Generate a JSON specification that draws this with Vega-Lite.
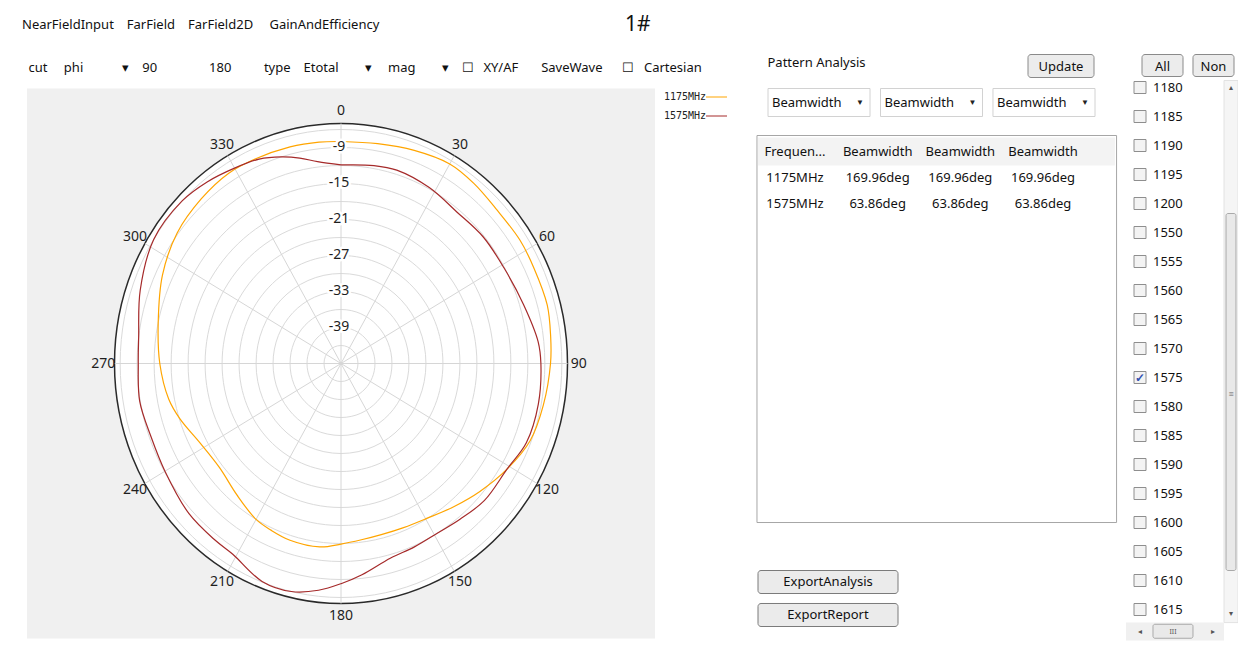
{
  "$schema": "https://vega.github.io/schema/vega-lite/v6.json",
  "background": "white",
  "padding": {"left": 22, "top": 13.5, "right": 0, "bottom": 0},
  "config": {
    "view": {"stroke": null},
    "font": "Noto Sans",
    "title": {"font": "Noto Sans", "fontWeight": "normal", "color": "#111111"}
  },
  "datasets": {
    "pattern": [
      {"series": "1175MHz", "angle": 0, "db": -8.0},
      {"series": "1175MHz", "angle": 10, "db": -7.8},
      {"series": "1175MHz", "angle": 20, "db": -7.2},
      {"series": "1175MHz", "angle": 30, "db": -6.6},
      {"series": "1175MHz", "angle": 38, "db": -6.9},
      {"series": "1175MHz", "angle": 47, "db": -7.4},
      {"series": "1175MHz", "angle": 57, "db": -7.3},
      {"series": "1175MHz", "angle": 65, "db": -7.4},
      {"series": "1175MHz", "angle": 75, "db": -7.3},
      {"series": "1175MHz", "angle": 83, "db": -7.7},
      {"series": "1175MHz", "angle": 90, "db": -8.0},
      {"series": "1175MHz", "angle": 101, "db": -8.6},
      {"series": "1175MHz", "angle": 111, "db": -9.2},
      {"series": "1175MHz", "angle": 121, "db": -10.8},
      {"series": "1175MHz", "angle": 131, "db": -12.5},
      {"series": "1175MHz", "angle": 140, "db": -13.9},
      {"series": "1175MHz", "angle": 150, "db": -15.1},
      {"series": "1175MHz", "angle": 158, "db": -15.5},
      {"series": "1175MHz", "angle": 166, "db": -15.6},
      {"series": "1175MHz", "angle": 173, "db": -15.4},
      {"series": "1175MHz", "angle": 180, "db": -14.9},
      {"series": "1175MHz", "angle": 187, "db": -14.2},
      {"series": "1175MHz", "angle": 197, "db": -14.2},
      {"series": "1175MHz", "angle": 204, "db": -14.6},
      {"series": "1175MHz", "angle": 210, "db": -15.0},
      {"series": "1175MHz", "angle": 220, "db": -16.4},
      {"series": "1175MHz", "angle": 231, "db": -17.4},
      {"series": "1175MHz", "angle": 242, "db": -16.8},
      {"series": "1175MHz", "angle": 252, "db": -15.1},
      {"series": "1175MHz", "angle": 259, "db": -14.0},
      {"series": "1175MHz", "angle": 270, "db": -13.0},
      {"series": "1175MHz", "angle": 282, "db": -12.0},
      {"series": "1175MHz", "angle": 295, "db": -10.2},
      {"series": "1175MHz", "angle": 307, "db": -8.8},
      {"series": "1175MHz", "angle": 318, "db": -8.1},
      {"series": "1175MHz", "angle": 328, "db": -7.6},
      {"series": "1175MHz", "angle": 336, "db": -7.7},
      {"series": "1175MHz", "angle": 346, "db": -7.8},
      {"series": "1175MHz", "angle": 354, "db": -7.9},
      {"series": "1175MHz", "angle": 360, "db": -8.0},
      {"series": "1575MHz", "angle": 0, "db": -11.9},
      {"series": "1575MHz", "angle": 10, "db": -11.5},
      {"series": "1575MHz", "angle": 17, "db": -11.3},
      {"series": "1575MHz", "angle": 28, "db": -11.8},
      {"series": "1575MHz", "angle": 39, "db": -12.5},
      {"series": "1575MHz", "angle": 50, "db": -12.2},
      {"series": "1575MHz", "angle": 61, "db": -12.1},
      {"series": "1575MHz", "angle": 73, "db": -11.3},
      {"series": "1575MHz", "angle": 84, "db": -10.0},
      {"series": "1575MHz", "angle": 90, "db": -9.7},
      {"series": "1575MHz", "angle": 101, "db": -9.5},
      {"series": "1575MHz", "angle": 112, "db": -9.7},
      {"series": "1575MHz", "angle": 121, "db": -10.8},
      {"series": "1575MHz", "angle": 132, "db": -10.9},
      {"series": "1575MHz", "angle": 141, "db": -11.6},
      {"series": "1575MHz", "angle": 149, "db": -12.0},
      {"series": "1575MHz", "angle": 157, "db": -11.8},
      {"series": "1575MHz", "angle": 165, "db": -11.4},
      {"series": "1575MHz", "angle": 174, "db": -9.6},
      {"series": "1575MHz", "angle": 180, "db": -8.3},
      {"series": "1575MHz", "angle": 186, "db": -7.0},
      {"series": "1575MHz", "angle": 193, "db": -6.0},
      {"series": "1575MHz", "angle": 201, "db": -6.1},
      {"series": "1575MHz", "angle": 211, "db": -7.9},
      {"series": "1575MHz", "angle": 217, "db": -8.1},
      {"series": "1575MHz", "angle": 227, "db": -8.3},
      {"series": "1575MHz", "angle": 240, "db": -9.1},
      {"series": "1575MHz", "angle": 250, "db": -9.3},
      {"series": "1575MHz", "angle": 260, "db": -8.9},
      {"series": "1575MHz", "angle": 270, "db": -9.2},
      {"series": "1575MHz", "angle": 277, "db": -9.0},
      {"series": "1575MHz", "angle": 289, "db": -7.5},
      {"series": "1575MHz", "angle": 302, "db": -6.0},
      {"series": "1575MHz", "angle": 314, "db": -6.0},
      {"series": "1575MHz", "angle": 322, "db": -6.6},
      {"series": "1575MHz", "angle": 330, "db": -7.4},
      {"series": "1575MHz", "angle": 337, "db": -8.0},
      {"series": "1575MHz", "angle": 343, "db": -9.0},
      {"series": "1575MHz", "angle": 348, "db": -10.0},
      {"series": "1575MHz", "angle": 353, "db": -11.1},
      {"series": "1575MHz", "angle": 360, "db": -11.9}
    ],
    "rings": [
      {"level": -42}, {"level": -39}, {"level": -36}, {"level": -33}, {"level": -30},
      {"level": -27}, {"level": -24}, {"level": -21}, {"level": -18}, {"level": -15},
      {"level": -12}, {"level": -9}, {"level": -6}, {"level": -5}
    ],
    "spokes": [
      {"angle": 0}, {"angle": 30}, {"angle": 60}, {"angle": 90}, {"angle": 120}, {"angle": 150},
      {"angle": 180}, {"angle": 210}, {"angle": 240}, {"angle": 270}, {"angle": 300}, {"angle": 330}
    ],
    "series": [{"series": "1175MHz"}, {"series": "1575MHz"}],
    "dropdowns": [
      {"id": 1, "value": "Beamwidth"}, {"id": 2, "value": "Beamwidth"}, {"id": 3, "value": "Beamwidth"}
    ],
    "topButtons": [{"label": "Update"}],
    "listButtons": [{"label": "All"}, {"label": "Non"}],
    "table": [
      {"row": 0, "col": 0, "text": "Frequen..."},
      {"row": 0, "col": 1, "text": "Beamwidth"},
      {"row": 0, "col": 2, "text": "Beamwidth"},
      {"row": 0, "col": 3, "text": "Beamwidth"},
      {"row": 1, "col": 0, "text": "1175MHz"},
      {"row": 1, "col": 1, "text": "169.96deg"},
      {"row": 1, "col": 2, "text": "169.96deg"},
      {"row": 1, "col": 3, "text": "169.96deg"},
      {"row": 2, "col": 0, "text": "1575MHz"},
      {"row": 2, "col": 1, "text": "63.86deg"},
      {"row": 2, "col": 2, "text": "63.86deg"},
      {"row": 2, "col": 3, "text": "63.86deg"}
    ],
    "buttons": [{"label": "ExportAnalysis"}, {"label": "ExportReport"}],
    "freqs": [
      {"freq": 1180, "checked": false}, {"freq": 1185, "checked": false}, {"freq": 1190, "checked": false},
      {"freq": 1195, "checked": false}, {"freq": 1200, "checked": false}, {"freq": 1550, "checked": false},
      {"freq": 1555, "checked": false}, {"freq": 1560, "checked": false}, {"freq": 1565, "checked": false},
      {"freq": 1570, "checked": false}, {"freq": 1575, "checked": true}, {"freq": 1580, "checked": false},
      {"freq": 1585, "checked": false}, {"freq": 1590, "checked": false}, {"freq": 1595, "checked": false},
      {"freq": 1600, "checked": false}, {"freq": 1605, "checked": false}, {"freq": 1610, "checked": false},
      {"freq": 1615, "checked": false}
    ]
  },
  "bounds": "flush",
  "spacing": 9,
  "hconcat": [
    {
      "width": 628,
      "height": 550,
      "view": {"fill": "#f0f0f0", "stroke": null},
      "title": {
        "text": [
          "NearFieldInput\u2003FarField\u2003FarField2D\u2003 GainAndEfficiency",
          "\u200b\u2002cut\u2003 phi\u2003\u2003\u2003\u25be\u200390\u2003\u2003\u2003\u2003180\u2003\u2003\u2002type\u2003Etotal\u2003\u2003\u25be\u2003 mag\u2003\u2003\u25be\u2003\u2610\u2002 XY/AF\u2003\u2002 SaveWave\u2003\u2002\u2610\u2002 Cartesian"
        ],
        "anchor": "start",
        "dx": -5,
        "fontSize": 13,
        "lineHeight": 43,
        "offset": 14
      },
      "layer": [
        {
          "data": {"name": "rings"},
          "transform": [{"filter": "datum.level == -5"}, {"calculate": "datum.level + 45", "as": "r"}],
          "mark": {"type": "point", "shape": "M 0.94375 0 C 0.94375 0.5523 0.5212 1 0 1 C -0.5212 1 -0.94375 0.5523 -0.94375 0 C -0.94375 -0.5523 -0.5212 -1 0 -1 C 0.5212 -1 0.94375 -0.5523 0.94375 0 Z", "filled": true, "fill": "white", "stroke": "#2a2a2a", "strokeWidth": 1.5, "opacity": 1},
          "encoding": {
            "x": {"datum": 0, "type": "quantitative", "scale": {"domain": [-55.45, 55.45], "nice": false, "zero": false}, "axis": null},
            "y": {"datum": 0, "type": "quantitative", "scale": {"domain": [-45.833, 45.833], "nice": false, "zero": false}, "axis": null},
            "size": {"field": "r", "type": "quantitative", "scale": {"type": "pow", "exponent": 2, "domain": [0, 40], "range": [0, 230400]}, "legend": null}
          }
        },
        {
          "data": {"name": "rings"},
          "transform": [{"filter": "datum.level < -5"}, {"calculate": "datum.level + 45", "as": "r"}],
          "mark": {"type": "point", "shape": "M 0.94375 0 C 0.94375 0.5523 0.5212 1 0 1 C -0.5212 1 -0.94375 0.5523 -0.94375 0 C -0.94375 -0.5523 -0.5212 -1 0 -1 C 0.5212 -1 0.94375 -0.5523 0.94375 0 Z", "filled": false, "stroke": "#dadada", "strokeWidth": 1, "opacity": 1},
          "encoding": {
            "x": {"datum": 0, "type": "quantitative"},
            "y": {"datum": 0, "type": "quantitative"},
            "size": {"field": "r", "type": "quantitative", "legend": null}
          }
        },
        {
          "data": {"name": "spokes"},
          "transform": [
            {"calculate": "40 * sin(datum.angle * PI / 180)", "as": "sx"},
            {"calculate": "40 * cos(datum.angle * PI / 180)", "as": "sy"},
            {"calculate": "0", "as": "o"}
          ],
          "mark": {"type": "rule", "color": "#d6d6d6", "strokeWidth": 1},
          "encoding": {
            "x": {"field": "o", "type": "quantitative"},
            "y": {"field": "o", "type": "quantitative"},
            "x2": {"field": "sx"},
            "y2": {"field": "sy"}
          }
        },
        {
          "data": {"name": "pattern"},
          "transform": [
            {"calculate": "(datum.db + 45) * sin(datum.angle * PI / 180)", "as": "px"},
            {"calculate": "(datum.db + 45) * cos(datum.angle * PI / 180)", "as": "py"}
          ],
          "mark": {"type": "line", "strokeWidth": 1.2, "interpolate": "catmull-rom"},
          "encoding": {
            "x": {"field": "px", "type": "quantitative"},
            "y": {"field": "py", "type": "quantitative"},
            "color": {"field": "series", "type": "nominal", "scale": {"domain": ["1175MHz", "1575MHz"], "range": ["#ffa500", "#a52a2a"]}, "legend": null},
            "order": {"field": "angle", "type": "quantitative"}
          }
        },
        {
          "data": {"name": "rings"},
          "transform": [{"filter": "datum.level < -5 && (datum.level + 45) % 6 == 0"}, {"calculate": "datum.level + 45", "as": "r"}],
          "mark": {"type": "text", "fontSize": 14, "color": "white", "stroke": "white", "strokeWidth": 5, "strokeJoin": "round", "dx": -2},
          "encoding": {
            "x": {"datum": 0, "type": "quantitative"},
            "y": {"field": "r", "type": "quantitative"},
            "text": {"field": "level", "type": "nominal"}
          }
        },
        {
          "data": {"name": "rings"},
          "transform": [{"filter": "datum.level < -5 && (datum.level + 45) % 6 == 0"}, {"calculate": "datum.level + 45", "as": "r"}],
          "mark": {"type": "text", "fontSize": 14, "color": "#1e1e1e", "dx": -2},
          "encoding": {
            "x": {"datum": 0, "type": "quantitative"},
            "y": {"field": "r", "type": "quantitative"},
            "text": {"field": "level", "type": "nominal"}
          }
        },
        {
          "data": {"name": "spokes"},
          "transform": [
            {"calculate": "42 * sin(datum.angle * PI / 180)", "as": "lx"},
            {"calculate": "42 * cos(datum.angle * PI / 180)", "as": "ly"}
          ],
          "mark": {"type": "text", "fontSize": 14, "color": "#1e1e1e"},
          "encoding": {
            "x": {"field": "lx", "type": "quantitative"},
            "y": {"field": "ly", "type": "quantitative"},
            "text": {"field": "angle", "type": "nominal"}
          }
        }
      ]
    },
    {
      "width": 84,
      "height": 38,
      "data": {"name": "series"},
      "title": {
        "text": "1#",
        "anchor": "start",
        "dx": -39,
        "fontSize": 21,
        "offset": 54
      },
      "layer": [
        {
          "mark": {"type": "text", "align": "left", "font": "DejaVu Sans Mono", "fontSize": 10, "color": "#222222", "yOffset": -1.5},
          "encoding": {
            "x": {"datum": 0, "type": "quantitative", "scale": {"domain": [0, 1], "nice": false, "zero": false}, "axis": null},
            "y": {"field": "series", "type": "nominal", "sort": null, "axis": null, "scale": {"type": "band", "paddingInner": 0, "paddingOuter": 0}},
            "text": {"field": "series", "type": "nominal"}
          }
        },
        {
          "mark": {"type": "rule", "strokeWidth": 1, "yOffset": -1},
          "encoding": {
            "x": {"datum": 0.5, "type": "quantitative"},
            "x2": {"datum": 0.75},
            "y": {"field": "series", "type": "nominal", "sort": null},
            "color": {"field": "series", "type": "nominal", "scale": {"domain": ["1175MHz", "1575MHz"], "range": ["#ffa500", "#b84a4a"]}, "legend": null}
          }
        }
      ]
    },
    {
      "width": 360,
      "height": 538,
      "title": {
        "text": "Pattern Analysis",
        "anchor": "start",
        "dx": 11,
        "fontSize": 13,
        "offset": -16
      },
      "resolve": {"scale": {"x": "independent", "y": "independent"}},
      "layer": [
        {
          "data": {"name": "topButtons"},
          "layer": [
            {
              "mark": {"type": "rect", "fill": "#ececec", "stroke": "#8a8a8a", "strokeWidth": 1, "cornerRadius": 3},
              "encoding": {
                "x": {"field": "label", "type": "nominal", "axis": null, "scale": {"type": "band", "range": [271, 337], "paddingInner": 0, "paddingOuter": 0}},
                "y": {"datum": 0, "type": "quantitative", "scale": {"domain": [0, 1], "range": [-34, -11], "nice": false, "zero": false}, "axis": null},
                "y2": {"datum": 1}
              }
            },
            {
              "mark": {"type": "text", "fontSize": 13, "color": "#111111"},
              "encoding": {
                "x": {"field": "label", "type": "nominal"},
                "y": {"datum": 0.55, "type": "quantitative"},
                "text": {"field": "label", "type": "nominal"}
              }
            }
          ]
        },
        {
          "data": {"name": "dropdowns"},
          "layer": [
            {
              "mark": {"type": "rect", "fill": "white", "stroke": "#d2d2d2", "strokeWidth": 1},
              "encoding": {
                "x": {"field": "id", "type": "nominal", "axis": null, "scale": {"type": "band", "range": [11, 338], "paddingInner": 0.093, "paddingOuter": 0}},
                "y": {"datum": 0, "type": "quantitative", "scale": {"domain": [0, 1], "range": [0, 28], "nice": false, "zero": false}, "axis": null},
                "y2": {"datum": 1}
              }
            },
            {
              "mark": {"type": "text", "align": "left", "dx": 4, "fontSize": 13, "color": "#111111"},
              "encoding": {
                "x": {"field": "id", "type": "nominal", "bandPosition": 0},
                "y": {"datum": 0.5, "type": "quantitative"},
                "text": {"field": "value", "type": "nominal"}
              }
            },
            {
              "mark": {"type": "text", "align": "center", "dx": -10, "fontSize": 8, "color": "#222222", "text": "\u25bc"},
              "encoding": {
                "x": {"field": "id", "type": "nominal", "bandPosition": 1},
                "y": {"datum": 0.5, "type": "quantitative"}
              }
            }
          ]
        },
        {
          "data": {"name": "table"},
          "layer": [
            {
              "transform": [{"filter": "datum.row == 0 && datum.col == 0"}],
              "mark": {"type": "rect", "fill": "white", "stroke": "#a6a6a6", "strokeWidth": 1},
              "encoding": {
                "x": {"datum": -0.46, "type": "quantitative", "scale": {"domain": [0, 3], "range": [38, 286], "nice": false, "zero": false}, "axis": null},
                "x2": {"datum": 3.89},
                "y": {"datum": -0.615, "type": "quantitative", "scale": {"domain": [0, 2], "range": [63, 115], "nice": false, "zero": false}, "axis": null},
                "y2": {"datum": 14.27}
              }
            },
            {
              "transform": [{"filter": "datum.row == 0 && datum.col == 0"}],
              "mark": {"type": "rect", "fill": "#f3f3f3"},
              "encoding": {
                "x": {"datum": -0.448, "type": "quantitative"},
                "x2": {"datum": 3.87},
                "y": {"datum": -0.54, "type": "quantitative"},
                "y2": {"datum": 0.54}
              }
            },
            {
              "mark": {"type": "text", "fontSize": 13, "color": "#111111"},
              "encoding": {
                "x": {"field": "col", "type": "quantitative"},
                "y": {"field": "row", "type": "quantitative"},
                "text": {"field": "text", "type": "nominal"}
              }
            }
          ]
        },
        {
          "data": {"name": "buttons"},
          "layer": [
            {
              "mark": {"type": "rect", "fill": "#ebebeb", "stroke": "#7b7b7b", "strokeWidth": 1, "cornerRadius": 3},
              "encoding": {
                "x": {"datum": 0, "type": "quantitative", "scale": {"domain": [0, 1], "range": [1, 141], "nice": false, "zero": false}, "axis": null},
                "x2": {"datum": 1},
                "y": {"field": "label", "type": "nominal", "sort": null, "axis": null, "scale": {"type": "band", "range": [482, 538], "paddingInner": 0.303, "paddingOuter": 0}}
              }
            },
            {
              "mark": {"type": "text", "fontSize": 13, "color": "#111111"},
              "encoding": {
                "x": {"datum": 0.5, "type": "quantitative"},
                "y": {"field": "label", "type": "nominal", "sort": null},
                "text": {"field": "label", "type": "nominal"}
              }
            }
          ]
        }
      ]
    },
    {
      "width": 112,
      "height": 551,
      "resolve": {"scale": {"x": "independent", "y": "independent"}},
      "layer": [
        {
          "data": {"name": "listButtons"},
          "layer": [
            {
              "mark": {"type": "rect", "fill": "#ececec", "stroke": "#8a8a8a", "strokeWidth": 1, "cornerRadius": 3},
              "encoding": {
                "x": {"field": "label", "type": "nominal", "sort": null, "axis": null, "scale": {"type": "band", "range": [16, 108], "paddingInner": 0.196, "paddingOuter": 0}},
                "y": {"datum": 0, "type": "quantitative", "scale": {"domain": [0, 1], "range": [-34, -12], "nice": false, "zero": false}, "axis": null},
                "y2": {"datum": 1}
              }
            },
            {
              "mark": {"type": "text", "fontSize": 13, "color": "#111111"},
              "encoding": {
                "x": {"field": "label", "type": "nominal", "sort": null},
                "y": {"datum": 0.55, "type": "quantitative"},
                "text": {"field": "label", "type": "nominal"}
              }
            }
          ]
        },
        {
          "data": {"name": "freqs"},
          "layer": [
            {
              "mark": {"type": "point", "shape": "square", "size": 144, "filled": true, "fill": "#f3f3f3", "stroke": "#8e8e8e", "strokeWidth": 1, "opacity": 1, "yOffset": -15.5},
              "encoding": {
                "x": {"datum": 0.125, "type": "quantitative", "scale": {"domain": [0, 1], "nice": false, "zero": false}, "axis": null},
                "y": {"field": "freq", "type": "ordinal", "axis": null, "scale": {"type": "band", "paddingInner": 0, "paddingOuter": 0}}
              }
            },
            {
              "mark": {"type": "text", "align": "left", "yOffset": -15.5, "fontSize": 13, "color": "#111111"},
              "encoding": {
                "x": {"datum": 0.241, "type": "quantitative"},
                "y": {"field": "freq", "type": "ordinal"},
                "text": {"field": "freq", "type": "nominal"}
              }
            },
            {
              "transform": [{"filter": "datum.checked"}],
              "mark": {"type": "text", "text": "\u2713", "yOffset": -15.5, "fontSize": 12, "fontWeight": "bold", "color": "#3050b0"},
              "encoding": {
                "x": {"datum": 0.125, "type": "quantitative"},
                "y": {"field": "freq", "type": "ordinal"}
              }
            }
          ]
        },
        {
          "data": {"name": "freqs"},
          "transform": [{"filter": "datum.freq == 1180"}],
          "layer": [
            {
              "mark": {"type": "rect", "fill": "#f5f5f5", "stroke": "#e2e2e2", "strokeWidth": 1},
              "encoding": {
                "x": {"datum": 0.875, "type": "quantitative", "scale": {"domain": [0, 1], "range": [0, 112], "nice": false, "zero": false}, "axis": null},
                "x2": {"datum": 1.0},
                "y": {"datum": 0, "type": "quantitative", "scale": {"domain": [0, 1], "range": [-8, 552], "nice": false, "zero": false}, "axis": null},
                "y2": {"datum": 0.968}
              }
            },
            {
              "mark": {"type": "rect", "fill": "#e9e9e9", "stroke": "#a9a9a9", "strokeWidth": 1, "cornerRadius": 2},
              "encoding": {
                "x": {"datum": 0.893, "type": "quantitative"},
                "x2": {"datum": 0.982},
                "y": {"datum": 0.2375, "type": "quantitative"},
                "y2": {"datum": 0.875}
              }
            },
            {
              "mark": {"type": "text", "text": "\u2261", "fontSize": 9, "color": "#666666"},
              "encoding": {
                "x": {"datum": 0.9375, "type": "quantitative"},
                "y": {"datum": 0.559, "type": "quantitative"}
              }
            },
            {
              "mark": {"type": "text", "text": "\u25b4", "fontSize": 8, "color": "#555555"},
              "encoding": {
                "x": {"datum": 0.9375, "type": "quantitative"},
                "y": {"datum": 0.0125, "type": "quantitative"}
              }
            },
            {
              "mark": {"type": "text", "text": "\u25be", "fontSize": 8, "color": "#555555"},
              "encoding": {
                "x": {"datum": 0.9375, "type": "quantitative"},
                "y": {"datum": 0.953, "type": "quantitative"}
              }
            },
            {
              "mark": {"type": "rect", "fill": "#f0f0f0"},
              "encoding": {
                "x": {"datum": 0, "type": "quantitative"},
                "x2": {"datum": 0.875},
                "y": {"datum": 0.968, "type": "quantitative"},
                "y2": {"datum": 1.0}
              }
            },
            {
              "mark": {"type": "rect", "fill": "#e9e9e9", "stroke": "#a9a9a9", "strokeWidth": 1, "cornerRadius": 2},
              "encoding": {
                "x": {"datum": 0.241, "type": "quantitative"},
                "x2": {"datum": 0.598},
                "y": {"datum": 0.971, "type": "quantitative"},
                "y2": {"datum": 0.996}
              }
            },
            {
              "mark": {"type": "text", "text": "III", "fontSize": 7, "color": "#555555"},
              "encoding": {
                "x": {"datum": 0.42, "type": "quantitative"},
                "y": {"datum": 0.984, "type": "quantitative"}
              }
            },
            {
              "mark": {"type": "text", "text": "\u25c2", "fontSize": 8, "color": "#555555"},
              "encoding": {
                "x": {"datum": 0.125, "type": "quantitative"},
                "y": {"datum": 0.984, "type": "quantitative"}
              }
            },
            {
              "mark": {"type": "text", "text": "\u25b8", "fontSize": 8, "color": "#555555"},
              "encoding": {
                "x": {"datum": 0.777, "type": "quantitative"},
                "y": {"datum": 0.984, "type": "quantitative"}
              }
            }
          ]
        }
      ]
    }
  ]
}
